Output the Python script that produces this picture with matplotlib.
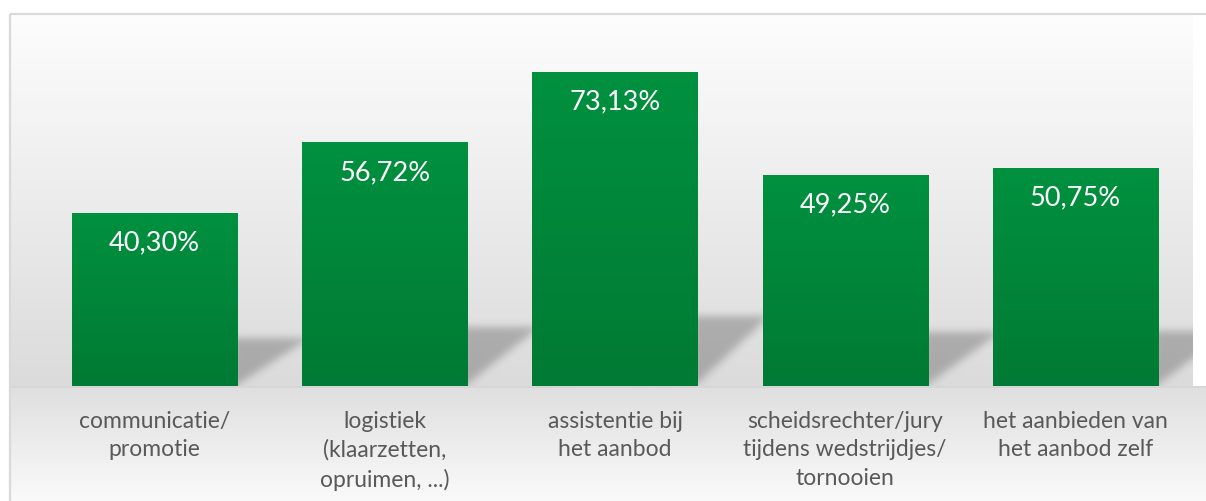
import matplotlib
matplotlib.use('Agg')
import matplotlib.pyplot as plt
import numpy as np
from matplotlib.colors import LinearSegmentedColormap
from matplotlib.path import Path
from matplotlib.patches import Rectangle

categories = ['communicatie/\npromotie',
              'logistiek\n(klaarzetten,\nopruimen, ...)',
              'assistentie bij\nhet aanbod',
              'scheidsrechter/jury\ntijdens wedstrijdjes/\ntornooien',
              'het aanbieden van\nhet aanbod zelf']
values = [40.30, 56.72, 73.13, 49.25, 50.75]
value_labels = ['40,30%', '56,72%', '73,13%', '49,25%', '50,75%']

W, H = 1206, 502
plt.rcParams['font.family'] = ['Lato', 'DejaVu Sans']

fig = plt.figure(figsize=(W / 100, H / 100), dpi=100)

# plot area in pixels (left, right, top, baseline)
left_px, right_px, top_px, base_px = 10, 1193, 15, 387
ax_bg = fig.add_axes([0, 0, 1, 1], zorder=0)
ax = fig.add_axes([left_px / W, (H - base_px) / H, (right_px - left_px) / W,
                   (base_px - top_px) / H], zorder=1)
ax.patch.set_alpha(0)
for s in ax.spines.values():
    s.set_visible(False)
ax.set_yticks([])

x = np.arange(len(values))
bars = ax.bar(x, values, width=0.717, color='none', zorder=2)
cmap = LinearSegmentedColormap.from_list('g', ['#007a34', '#00913f'])
grad = np.linspace(0, 1, 256).reshape(-1, 1)
for b in bars:
    im = ax.imshow(grad, cmap=cmap, origin='lower', aspect='auto',
                   extent=(b.get_x(), b.get_x() + b.get_width(), 0, b.get_height()),
                   zorder=2)
    im.set_clip_path(b)
ax.set_xlim(-0.628, 4.511)
ax.set_ylim(0, 86.63)

for xi, v, lab in zip(x, values, value_labels):
    ax.annotate(lab, (xi, v), xytext=(0, -21), textcoords='offset points',
                ha='center', va='center', color='white', fontsize=19.5, zorder=3)

ax.set_xticks(x)
ax.set_xticklabels(categories, fontsize=16.5, color='#595959')
ax.tick_params(axis='x', length=0, pad=17)
for t in ax.get_xticklabels():
    t.set_linespacing(1.45)

# background: gradient wall + floor + soft shadows behind bars
rows = np.arange(H).reshape(-1, 1) * np.ones((1, W))
cols = np.ones((H, 1)) * np.arange(W).reshape(1, -1)
bg = np.full((H, W), 255.0)
wall = (rows >= top_px) & (rows < base_px) & (cols >= left_px) & (cols < right_px)
t = (rows - top_px) / (base_px - top_px)
bg[wall] = (253 - 34 * t)[wall]
floor = (rows >= base_px) & (cols >= left_px)
tf = np.clip((rows - base_px) / (H - base_px), 0, 1)
bg[floor] = (223 + 27 * tf)[floor]
bg[(rows >= base_px) & (rows < base_px + 2) & (cols >= left_px)] = 214

mask = np.zeros((H, W))
pts = np.column_stack([cols.ravel() + 0.5, rows.ravel() + 0.5])
for b in bars:
    xr, ytop_disp = ax.transData.transform((b.get_x() + b.get_width(), b.get_height()))
    hpx = base_px - (H - ytop_disp)
    sh = 0.16 * hpx + 20
    poly = Path([(xr - 5, base_px + 2), (xr - 5, base_px - sh), (xr + 72, base_px - sh),
                 (xr - 5, base_px + 2)])
    mask = np.maximum(mask, poly.contains_points(pts).reshape(H, W).astype(float))
k = np.exp(-0.5 * (np.arange(-12, 13) / 4.0) ** 2)
k /= k.sum()
mask = np.apply_along_axis(lambda r: np.convolve(r, k, mode='same'), 1, mask)
mask = np.apply_along_axis(lambda c: np.convolve(c, k, mode='same'), 0, mask)
mask[~wall] = 0
bg = bg * (1 - 0.23 * mask)

ax_bg.imshow(np.dstack([bg, bg, bg]) / 255.0, extent=(0, W, H, 0), aspect='auto',
             interpolation='nearest')
ax_bg.add_patch(Rectangle((9.5, 14.5), W, H, fill=False, edgecolor='#d9d9d9', lw=1.6))
ax_bg.set_xlim(0, W)
ax_bg.set_ylim(H, 0)
ax_bg.axis('off')

fig.savefig('out.png', dpi=100)
